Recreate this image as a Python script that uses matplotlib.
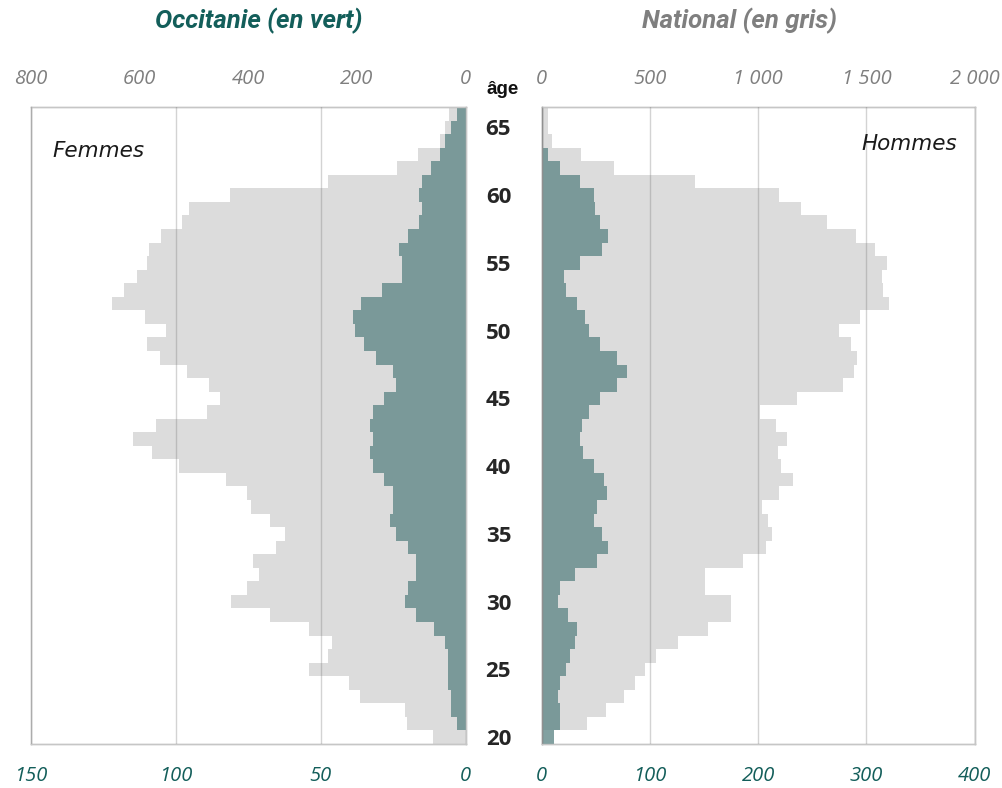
import matplotlib
matplotlib.use("Agg")
import matplotlib.pyplot as plt

# ---------------- data ----------------
ages = list(range(20, 67))
age_ticks = [20, 25, 30, 35, 40, 45, 50, 55, 60, 65]

# Femmes - National (grey, top scale)
nat_femmes = [60, 108, 112, 194, 215, 289, 254, 246, 289, 360,
              431, 402, 381, 392, 349, 332, 360, 395, 402, 441,
              527, 576, 611, 569, 476, 452, 473, 512, 562, 586,
              551, 590, 650, 628, 604, 587, 582, 560, 522, 508,
              433, 254, 127, 87, 48, 38, 30]
# Femmes - Occitanie (green, bottom scale)
occ_femmes = [0, 3, 5, 5, 6, 6, 6, 7, 11, 17,
              21, 20, 17, 17, 20, 24, 26, 25, 25, 28,
              32, 33, 32, 33, 32, 28, 24, 25, 31, 35,
              38, 39, 36, 29, 22, 22, 23, 20, 16, 15,
              16, 15, 12, 9, 7, 5, 3]
# Hommes - National (grey, top scale)
nat_hommes = [0, 209, 298, 379, 432, 477, 528, 628, 768, 876,
              876, 753, 753, 928, 1035, 1062, 1044, 1018, 1097, 1159,
              1107, 1090, 1132, 1081, 1008, 1178, 1390, 1444, 1455, 1427,
              1373, 1470, 1603, 1578, 1570, 1593, 1541, 1452, 1319, 1196,
              1097, 708, 332, 181, 49, 31, 31]
# Hommes - Occitanie (green, bottom scale)
occ_hommes = [11, 17, 17, 15, 17, 22, 26, 31, 33, 24,
              15, 17, 31, 51, 61, 56, 48, 51, 60, 58,
              48, 38, 35, 37, 44, 54, 70, 79, 70, 54,
              44, 40, 33, 22, 21, 35, 56, 61, 54, 49,
              48, 35, 17, 6, 0, 0, 0]

left_top_ticks = [800, 600, 400, 200, 0]
left_top_labels = ["800", "600", "400", "200", "0"]
left_bot_ticks = [150, 100, 50, 0]
left_bot_labels = ["150", "100", "50", "0"]
right_top_ticks = [0, 500, 1000, 1500, 2000]
right_top_labels = ["0", "500", "1 000", "1 500", "2 000"]
right_bot_ticks = [0, 100, 200, 300, 400]
right_bot_labels = ["0", "100", "200", "300", "400"]

# ---------------- style ----------------
GREY_BAR = "#DCDCDC"
TEAL = "#5F8787"
TEAL_TXT = "#135E5A"
GREY_TXT = "#7F7F7F"
SPINE = "#C6C6C6"
FONT = "Open Sans"

W, H = 1002, 788
fig = plt.figure(figsize=(W / 100, H / 100), dpi=100)


def rect(x0, x1, y0, y1):
    return [x0 / W, 1 - y1 / H, (x1 - x0) / W, (y1 - y0) / H]


def style_axes(ax):
    for s in ax.spines.values():
        s.set_color(SPINE)
        s.set_linewidth(1.0)


# ---------- left panel (Femmes) ----------
axL = fig.add_axes(rect(30.7, 465.7, 107, 744))
axL2 = axL.twiny()
axL.barh(ages, nat_femmes, height=1.0, color=GREY_BAR, linewidth=0, zorder=1)
axL.set_xlim(800, 0)
axL.set_ylim(19.5, 66.5)
axL.xaxis.tick_top()
axL.set_xticks(left_top_ticks)
axL.set_xticklabels(left_top_labels, fontstyle="italic", fontfamily=FONT,
                    fontsize=14.5, color=GREY_TXT)
axL.tick_params(axis="x", length=0, pad=13)
axL.set_yticks([])

axL2.barh(ages, occ_femmes, height=1.0, color=TEAL, alpha=0.78, linewidth=0, zorder=1)
axL2.set_xlim(150, 0)
axL2.xaxis.tick_bottom()
axL2.set_xticks(left_bot_ticks)
axL2.set_xticklabels(left_bot_labels, fontstyle="italic", fontfamily=FONT,
                     fontsize=14.5, color=TEAL_TXT)
axL2.tick_params(axis="x", length=0, pad=16)
axL2.set_axisbelow(False)
axL2.grid(axis="x", color="#7A7A7A", alpha=0.33, linewidth=1.0)
style_axes(axL)
style_axes(axL2)

# ---------- right panel (Hommes) ----------
axR = fig.add_axes(rect(541.7, 974.7, 107, 744))
axR2 = axR.twiny()
axR.barh(ages, nat_hommes, height=1.0, color=GREY_BAR, linewidth=0, zorder=1)
axR.set_xlim(0, 2000)
axR.set_ylim(19.5, 66.5)
axR.xaxis.tick_top()
axR.set_xticks(right_top_ticks)
axR.set_xticklabels(right_top_labels, fontstyle="italic", fontfamily=FONT,
                    fontsize=14.5, color=GREY_TXT)
axR.tick_params(axis="x", length=0, pad=13)
axR.set_yticks(age_ticks)
axR.set_yticklabels([str(a) for a in age_ticks], fontweight="bold",
                    fontfamily=FONT, fontsize=16, color="#262626")
axR.tick_params(axis="y", length=0, pad=22)

axR2.barh(ages, occ_hommes, height=1.0, color=TEAL, alpha=0.78, linewidth=0, zorder=1)
axR2.set_xlim(0, 400)
axR2.xaxis.tick_bottom()
axR2.set_xticks(right_bot_ticks)
axR2.set_xticklabels(right_bot_labels, fontstyle="italic", fontfamily=FONT,
                     fontsize=14.5, color=TEAL_TXT)
axR2.tick_params(axis="x", length=0, pad=16)
axR2.set_axisbelow(False)
axR2.grid(axis="x", color="#7A7A7A", alpha=0.33, linewidth=1.0)
style_axes(axR)
style_axes(axR2)
axR.spines["left"].set_color("#9C9C9C")
axR2.spines["left"].set_color("#9C9C9C")

# ---------- texts ----------
fig.text(259 / W, 1 - 21 / H, "Occitanie (en vert)", ha="center", va="center",
         fontfamily="Roboto", fontweight="bold", fontstyle="italic",
         fontsize=18.5, color=TEAL_TXT)
fig.text(739 / W, 1 - 21 / H, "National (en gris)", ha="center", va="center",
         fontfamily="Roboto", fontweight="bold", fontstyle="italic",
         fontsize=18.5, color=GREY_TXT)
fig.text(503 / W, 1 - 89 / H, "âge", ha="center", va="center",
         fontfamily="Liberation Sans", fontweight="bold", fontsize=13.5,
         color="#111111")
fig.text(52 / W, 1 - 157 / H, "Femmes", ha="left", va="baseline",
         fontfamily="DejaVu Sans", fontstyle="italic", fontsize=15.5,
         color="#1A1A1A")
fig.text(957 / W, 1 - 150 / H, "Hommes", ha="right", va="baseline",
         fontfamily="DejaVu Sans", fontstyle="italic", fontsize=15.5,
         color="#1A1A1A")

fig.savefig("out.png", dpi=100)
